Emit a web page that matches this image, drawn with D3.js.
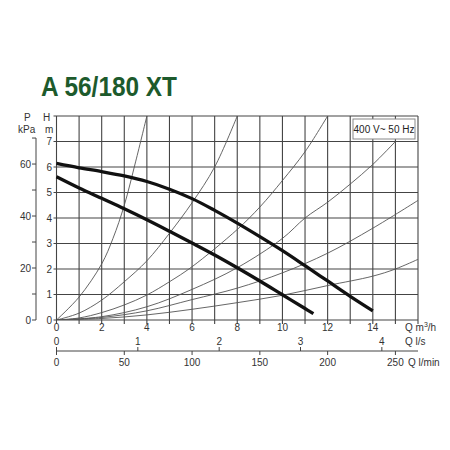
<!DOCTYPE html>
<html>
<head>
<meta charset="utf-8">
<script src="https://cdn.jsdelivr.net/npm/d3@7"></script>
<style>
  body { margin: 0; background: #fff; }
  svg { font-family: "Liberation Sans", Arial, sans-serif; }
</style>
</head>
<body>
<svg id="chart"></svg>
<script>
// Chart values
const qTicks = [0, 2, 4, 6, 8, 10, 12, 14];
const hTicks = [0, 1, 2, 3, 4, 5, 6, 7];
const pTicks = [0, 10, 20, 30, 40, 50, 60, 70];
const pLabels = [0, 20, 40, 60];
const lsTicks = [0, 1, 2, 3, 4];
const lminTicks = [0, 50, 100, 150, 200, 250];

// pump curves [Q m3/h, H m]
const pumpHigh = [[0, 6.14], [1, 5.97], [2, 5.82], [3, 5.65], [4, 5.43], [5, 5.13], [6, 4.76], [7, 4.3],
  [8, 3.8], [9, 3.27], [10, 2.72], [11, 2.13], [12, 1.53], [13, 0.93], [14, 0.36]];
const pumpLow = [[0, 5.62], [1, 5.18], [2, 4.77], [3, 4.36], [4, 3.93], [5, 3.48], [6, 3.02], [7, 2.55],
  [8, 2.05], [9, 1.53], [10, 0.99], [11, 0.45], [11.37, 0.25]];

// system curves
const sysA = [[0, 0], [1, 0.9], [2, 2.2], [2.5, 3.2], [3, 4.5], [3.5, 6.2], [4, 8]];
const sysB = [[0, 0], [1, 0.27], [2, 0.78], [3, 1.5], [4, 2.32], [5, 3.4], [6, 4.6], [7, 6.0], [8, 8]];
const sysC = [[0, 0], [1, 0.08], [2, 0.29], [3, 0.59], [4, 0.98], [5, 1.5], [6, 2.09], [8, 3.55],
  [9, 4.43], [10, 5.47], [11, 6.6], [12, 8]];
const sysD = [[0, 0], [2, 0.13], [4, 0.52], [6, 1.2], [8, 2.05], [10, 3.2], [11, 4.0], [12, 4.62],
  [13, 5.33], [14, 6.1], [15, 7.0]];
const sysE = [[0, 0], [2, 0.1], [4, 0.36], [6, 0.8], [8, 1.25], [10, 1.85], [12, 2.62], [14, 3.6], [16, 4.69]];
const sysF = [[0, 0], [2, 0.06], [4, 0.2], [6, 0.42], [8, 0.68], [10, 0.97], [12, 1.35], [14, 1.72], [15, 2.0], [16, 2.38]];

const width = 450;
const height = 450;

const svg = d3.select("#chart")
  .attr("width", width)
  .attr("height", height);

// Scales
const x = d3.scaleLinear().domain([0, 16]).range([56.5, 418]);
const y = d3.scaleLinear().domain([0, 8]).range([320, 116]);
const yP = d3.scaleLinear().domain([0, 8 * 9.81]).range([320, 116]);
const xLs = d3.scaleLinear().domain([0, 16 / 3.6]).range(x.range());
const xLmin = d3.scaleLinear().domain([0, 16 * 1000 / 60]).range(x.range());

// Title
svg.append("text")
  .attr("x", 41)
  .attr("y", 96)
  .attr("font-size", 27.5)
  .attr("font-weight", "bold")
  .attr("fill", "#1d5a2c")
  .attr("textLength", 136)
  .attr("lengthAdjust", "spacingAndGlyphs")
  .text("A 56/180 XT");

// Grid
const grid = svg.append("g").attr("stroke", "#444").attr("stroke-width", 1.1);
grid.selectAll(".vline")
  .data(d3.range(0, 17))
  .enter()
  .append("line")
  .attr("x1", d => x(d)).attr("x2", d => x(d))
  .attr("y1", y(8)).attr("y2", y(0) + 4);
grid.selectAll(".hline")
  .data(d3.range(0, 9))
  .enter()
  .append("line")
  .attr("x1", x(0) - 3).attr("x2", x(16))
  .attr("y1", d => y(d)).attr("y2", d => y(d));

// Axis labels for H and Q
svg.append("g").selectAll("text")
  .data(hTicks)
  .enter()
  .append("text")
  .attr("x", 52)
  .attr("y", d => y(d) + 3.5)
  .attr("text-anchor", "end")
  .attr("font-size", 10)
  .attr("fill", "#333")
  .text(d => d);

svg.append("g").selectAll("text")
  .data(qTicks)
  .enter()
  .append("text")
  .attr("x", d => x(d))
  .attr("y", 331)
  .attr("text-anchor", "middle")
  .attr("font-size", 10)
  .attr("fill", "#333")
  .text(d => d);

const unit = (tx, ty, txt) => svg.append("text")
  .attr("x", tx).attr("y", ty)
  .attr("font-size", 10)
  .attr("fill", "#333")
  .text(txt);

unit(43, 121, "H");
unit(45, 133, "m");
unit(24, 121, "P");
unit(18, 133, "kPa");

const qm = svg.append("text")
  .attr("x", 405).attr("y", 331)
  .attr("font-size", 10)
  .attr("fill", "#333");
qm.append("tspan").text("Q m");
qm.append("tspan").attr("font-size", 7).attr("dy", -4).text("3");
qm.append("tspan").attr("dy", 4).text("/h");

// P kPa axis
const pAxis = svg.append("g").attr("stroke", "#444").attr("stroke-width", 1);
pAxis.append("line")
  .attr("x1", 36).attr("x2", 36)
  .attr("y1", yP(70)).attr("y2", yP(0));
pAxis.selectAll(".pt")
  .data(pTicks)
  .enter()
  .append("line")
  .attr("x1", 32).attr("x2", 36)
  .attr("y1", d => yP(d)).attr("y2", d => yP(d));
svg.append("g").selectAll("text")
  .data(pLabels)
  .enter()
  .append("text")
  .attr("x", 31)
  .attr("y", d => yP(d) + 3.5)
  .attr("text-anchor", "end")
  .attr("font-size", 10)
  .attr("fill", "#333")
  .text(d => d);

// Flow axes below (l/s above line, l/min below)
const flowY = 351;
svg.append("line")
  .attr("x1", x(0)).attr("x2", x(16))
  .attr("y1", flowY).attr("y2", flowY)
  .attr("stroke", "#444");
svg.append("g").selectAll("line")
  .data(lsTicks)
  .enter()
  .append("line")
  .attr("x1", d => xLs(d)).attr("x2", d => xLs(d))
  .attr("y1", flowY - 4).attr("y2", flowY)
  .attr("stroke", "#444");
svg.append("g").selectAll("line")
  .data(lminTicks)
  .enter()
  .append("line")
  .attr("x1", d => xLmin(d)).attr("x2", d => xLmin(d))
  .attr("y1", flowY).attr("y2", flowY + 4)
  .attr("stroke", "#444");
svg.append("g").selectAll("text")
  .data(lsTicks)
  .enter()
  .append("text")
  .attr("x", d => xLs(d))
  .attr("y", 345)
  .attr("text-anchor", "middle")
  .attr("font-size", 10)
  .attr("fill", "#333")
  .text(d => d);
svg.append("g").selectAll("text")
  .data(lminTicks)
  .enter()
  .append("text")
  .attr("x", d => xLmin(d))
  .attr("y", 366)
  .attr("text-anchor", "middle")
  .attr("font-size", 10)
  .attr("fill", "#333")
  .text(d => d);
unit(405, 345, "Q l/s");
unit(408, 366, "Q l/min");

// Curves
svg.append("clipPath").attr("id", "plot")
  .append("rect")
  .attr("x", x(0)).attr("y", y(8))
  .attr("width", x(16) - x(0)).attr("height", y(0) - y(8));

const line = d3.line()
  .x(d => x(d[0]))
  .y(d => y(d[1]))
  .curve(d3.curveCatmullRom);

svg.append("g")
  .attr("clip-path", "url(#plot)")
  .selectAll("path")
  .data([sysA, sysB, sysC, sysD, sysE, sysF])
  .enter()
  .append("path")
  .attr("d", line)
  .attr("fill", "none")
  .attr("stroke", "#555")
  .attr("stroke-width", 0.9);

svg.append("g")
  .selectAll("path")
  .data([pumpHigh, pumpLow])
  .enter()
  .append("path")
  .attr("d", line)
  .attr("fill", "none")
  .attr("stroke", "#111")
  .attr("stroke-width", 3.3);

// Legend box
svg.append("rect")
  .attr("x", 353).attr("y", 119)
  .attr("width", 62).attr("height", 20)
  .attr("fill", "#fff")
  .attr("stroke", "#888");
svg.append("text")
  .attr("x", 384).attr("y", 133)
  .attr("text-anchor", "middle")
  .attr("font-size", 10)
  .attr("fill", "#222")
  .text("400 V~ 50 Hz");
</script>
</body>
</html>
